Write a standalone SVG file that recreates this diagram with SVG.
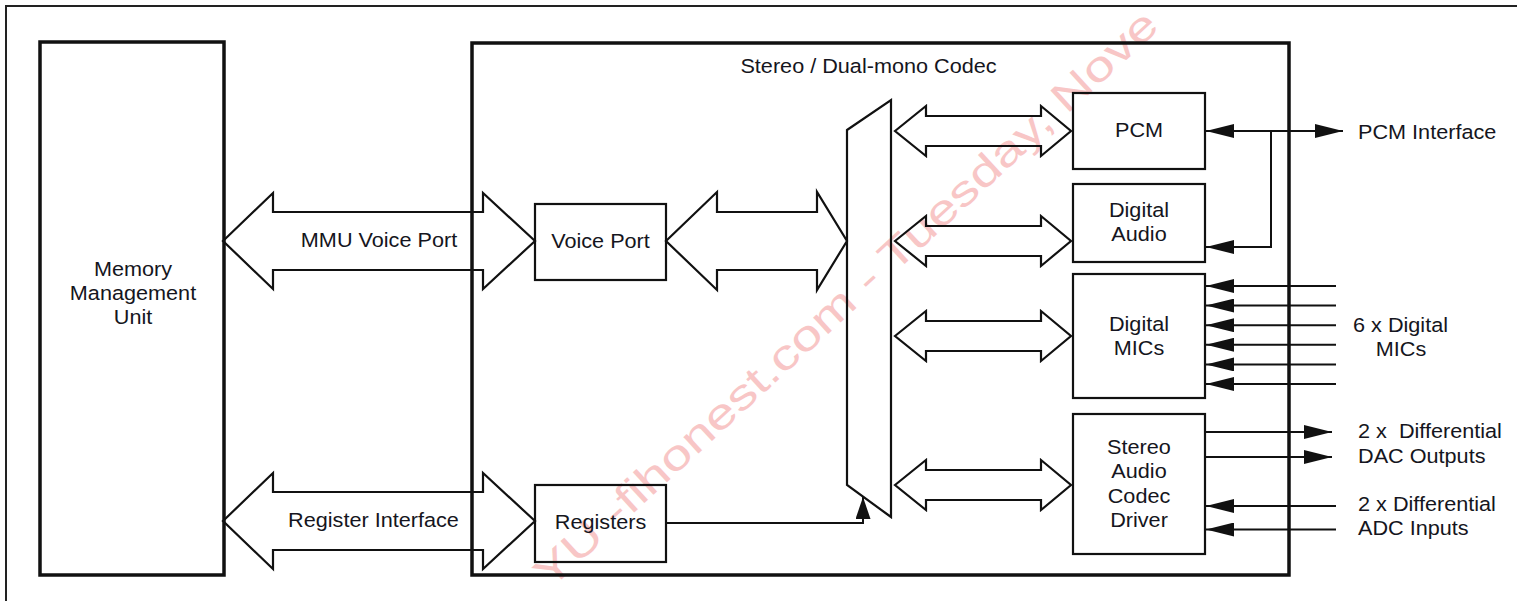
<svg xmlns="http://www.w3.org/2000/svg" width="1517" height="601" viewBox="0 0 1517 601">
<style>
.t{font-family:"Liberation Sans",Arial,sans-serif;font-size:19.5px;fill:#151520}
.m{text-anchor:middle}
.pre{white-space:pre}
.big{fill:none;stroke:#111;stroke-width:3.5}
.box{fill:none;stroke:#111;stroke-width:2.2}
.arr{fill:none;stroke:#111;stroke-width:2.2;stroke-linejoin:miter}
.ln{fill:none;stroke:#111;stroke-width:2}
.wm{font-family:"Liberation Sans",Arial,sans-serif;font-size:42px;fill:#f6b3b3;opacity:0.75}
</style>
<defs>
<marker id="ah" markerUnits="userSpaceOnUse" markerWidth="28" markerHeight="14" refX="28" refY="7" orient="auto">
<path d="M0,0 L28,7 L0,14 z" fill="#111"/>
</marker>
<marker id="ahs" markerUnits="userSpaceOnUse" markerWidth="22" markerHeight="15" refX="22" refY="7.5" orient="auto">
<path d="M0,0 L22,7.5 L0,15 z" fill="#111"/>
</marker>
</defs>
<rect x="0" y="0" width="1517" height="601" fill="#fff"/>
<rect x="6" y="6" width="1530" height="620" fill="none" stroke="#222" stroke-width="2"/>
<text class="wm" transform="translate(550,590) rotate(-42.6)" textLength="830" lengthAdjust="spacingAndGlyphs">YU -fihonest.com - Tuesday, Nove</text>

<g id="mmu">
<rect class="big" x="40" y="42" width="184" height="533"/>
<text class="t m" transform="matrix(1.11 0 0 1 133 276)">Memory</text>
<text class="t m" transform="matrix(1.11 0 0 1 133 300)">Management</text>
<text class="t m" transform="matrix(1.11 0 0 1 133 324)">Unit</text>
</g>
<g id="codec">
<rect class="big" x="472" y="43" width="817" height="532"/>
<text class="t m" transform="matrix(1.11 0 0 1 868.5 73)">Stereo / Dual-mono Codec</text>
</g>
<g id="voiceport">
<rect class="box" x="535" y="204" width="131" height="76"/>
<text class="t m" transform="matrix(1.11 0 0 1 600.5 248)">Voice Port</text>
</g>
<g id="registers">
<rect class="box" x="535" y="485" width="131" height="77"/>
<text class="t m" transform="matrix(1.11 0 0 1 600.5 529)">Registers</text>
</g>
<g id="mux">
<polygon class="box" points="847,130 891,100 891,517 847,485"/>
</g>
<g id="pcm">
<rect class="box" x="1073" y="93" width="132" height="76"/>
<text class="t m" transform="matrix(1.11 0 0 1 1139 137)">PCM</text>
</g>
<g id="digitalaudio">
<rect class="box" x="1073" y="184" width="132" height="78"/>
<text class="t m" transform="matrix(1.11 0 0 1 1139 217)">Digital</text>
<text class="t m" transform="matrix(1.11 0 0 1 1139 240.5)">Audio</text>
</g>
<g id="digitalmics">
<rect class="box" x="1073" y="274" width="132" height="124"/>
<text class="t m" transform="matrix(1.11 0 0 1 1139 330.5)">Digital</text>
<text class="t m" transform="matrix(1.11 0 0 1 1139 354.5)">MICs</text>
</g>
<g id="codecdriver">
<rect class="box" x="1073" y="414" width="132" height="140"/>
<text class="t m" transform="matrix(1.11 0 0 1 1139 453.5)">Stereo</text>
<text class="t m" transform="matrix(1.11 0 0 1 1139 478)">Audio</text>
<text class="t m" transform="matrix(1.11 0 0 1 1139 502.5)">Codec</text>
<text class="t m" transform="matrix(1.11 0 0 1 1139 527)">Driver</text>
</g>

<g id="connectors">
<polygon class="arr" points="223,241 273,193 273,212 483,212 483,193 535,241 483,289 483,270 273,270 273,289"/>
<polygon class="arr" points="223,521 273,473 273,492 483,492 483,473 535,521 483,569 483,550 273,550 273,569"/>
<polygon class="arr" points="666,241 717,192 717,212 817,212 817,192 847,241 817,290 817,270 717,270 717,290"/>
<polygon class="arr" points="895,131 926,106 926,116 1041,116 1041,106 1071,131 1041,156 1041,146 926,146 926,156"/>
<polygon class="arr" points="895,241 926,216 926,226 1041,226 1041,216 1071,241 1041,266 1041,256 926,256 926,266"/>
<polygon class="arr" points="895,336 926,311 926,321 1041,321 1041,311 1071,336 1041,361 1041,351 926,351 926,361"/>
<polygon class="arr" points="895,485 926,460 926,470 1041,470 1041,460 1071,485 1041,510 1041,500 926,500 926,510"/>
<path class="ln" d="M666,523 H863 V497" marker-end="url(#ahs)"/>
<path class="ln" d="M1271,131 H1206" marker-end="url(#ah)"/>
<path class="ln" d="M1271,131 H1343" marker-end="url(#ah)"/>
<path class="ln" d="M1271,131 V247 H1206" marker-end="url(#ah)"/>
<path class="ln" d="M1336,286 H1206" marker-end="url(#ah)"/>
<path class="ln" d="M1336,305.6 H1206" marker-end="url(#ah)"/>
<path class="ln" d="M1336,325.2 H1206" marker-end="url(#ah)"/>
<path class="ln" d="M1336,344.8 H1206" marker-end="url(#ah)"/>
<path class="ln" d="M1336,364.4 H1206" marker-end="url(#ah)"/>
<path class="ln" d="M1336,384 H1206" marker-end="url(#ah)"/>
<path class="ln" d="M1205,432 H1332" marker-end="url(#ah)"/>
<path class="ln" d="M1205,457 H1332" marker-end="url(#ah)"/>
<path class="ln" d="M1336,506 H1206" marker-end="url(#ah)"/>
<path class="ln" d="M1336,529.5 H1206" marker-end="url(#ah)"/>
</g>

<g id="labels">
<text class="t m" transform="matrix(1.11 0 0 1 379 247)">MMU Voice Port</text>
<text class="t m" transform="matrix(1.11 0 0 1 373.5 527)">Register Interface</text>
<text class="t" transform="matrix(1.11 0 0 1 1358 138.5)">PCM Interface</text>
<text class="t m" transform="matrix(1.11 0 0 1 1400.5 332)">6 x Digital</text>
<text class="t m" transform="matrix(1.11 0 0 1 1401 355.5)">MICs</text>
<text class="t pre" transform="matrix(1.11 0 0 1 1358 438)">2 x  Differential</text>
<text class="t" transform="matrix(1.11 0 0 1 1358 463)">DAC Outputs</text>
<text class="t" transform="matrix(1.11 0 0 1 1358 511)">2 x Differential</text>
<text class="t" transform="matrix(1.11 0 0 1 1358 535)">ADC Inputs</text>
</g>
</svg>
